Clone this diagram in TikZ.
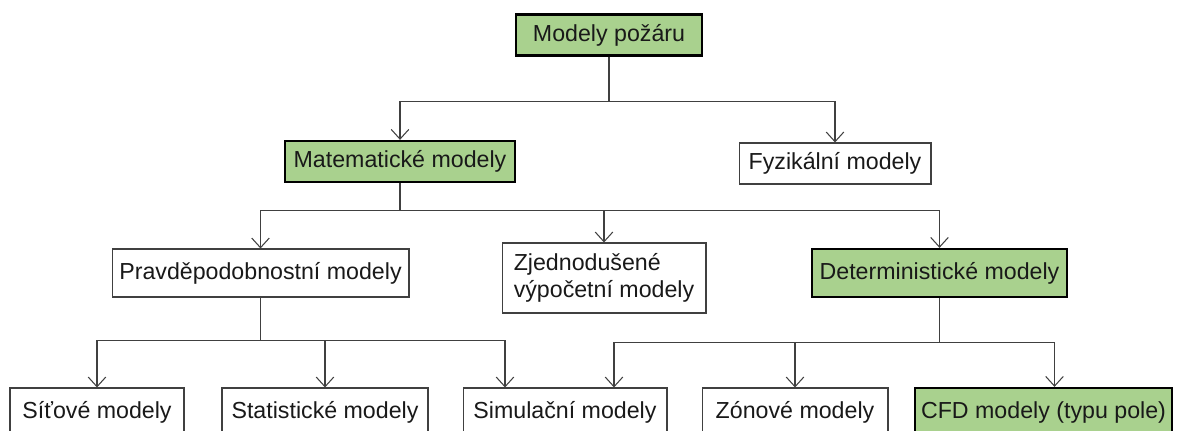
\documentclass[tikz,border=0pt]{standalone}
\usepackage{fontspec}
\setmainfont{Liberation Sans}
\usepackage{xcolor}
\definecolor{zelena}{RGB}{169,209,142}
\definecolor{sediva}{RGB}{64,64,64}
\usepackage{tikz}
\usetikzlibrary{arrows.meta,positioning,calc}

\begin{document}
\begin{tikzpicture}[x=0.02cm, y=-0.02cm,
  krabice/.style={draw=sediva, fill=white, line width=0.6pt,
    minimum height=0.96cm, inner sep=2pt, text=black!90,
    font=\fontsize{13.2}{15.5}\selectfont},
  zelena krabice/.style={krabice, draw=black, fill=zelena, line width=1.3pt},
  spoj/.style={draw=sediva, line width=0.6pt,
    -{Straight Barb[length=5.5pt,width=10pt]}}]
  \clip (0,0) rectangle (1182,430);

  % horni uroven
  \node[zelena krabice, minimum width=3.72cm, minimum height=0.82cm] (pozar) at (609,35) {Modely požáru};
  \node[zelena krabice, minimum width=4.6cm, minimum height=0.82cm] (matem) at (400,161.5) {Matematické modely};
  \node[krabice, minimum width=3.84cm, minimum height=0.82cm] (fyzik) at (835,163.5) {Fyzikální modely};

  % stredni uroven
  \node[krabice, minimum width=5.94cm] (pravd) at (260.5,273) {Pravděpodobnostní modely};
  \node[krabice, minimum width=4.08cm, minimum height=1.4cm, align=left] (zjedn) at (604,278)
    {Zjednodušené\\výpočetní modely};
  \node[zelena krabice, minimum width=5.1cm] (determ) at (939.5,273) {Deterministické modely};

  % spodni uroven
  \node[krabice, minimum width=3.48cm] (sitove) at (97,412) {Síťové modely};
  \node[krabice, minimum width=4.12cm] (statist) at (325,412) {Statistické modely};
  \node[krabice, minimum width=4.08cm] (simul) at (565,412) {Simulační modely};
  \node[krabice, minimum width=3.72cm] (zonove) at (795,412) {Zónové modely};
  \node[zelena krabice, minimum width=5.14cm] (cfd) at (1043.5,412) {CFD modely (typu pole)};

  % spoje
  \foreach \od/\do in {pozar/matem, pozar/fyzik}{
    \draw[spoj] (\od.south) -- ++(0,45) -| (\do.north);
  }
  \foreach \do in {pravd, zjedn, determ}{
    \draw[spoj] (matem.south) -- ++(0,27) -| (\do.north);
  }
  \foreach \do in {sitove, statist}{
    \draw[spoj] (pravd.south) -- ++(0,43) -| (\do.north);
  }
  \draw[spoj] (pravd.south) -- ++(0,43) -| ($(simul.north)+(-60,0)$);
  \draw[spoj] (determ.south) -- ++(0,44) -| ($(simul.north)+(49,0)$);
  \draw[spoj] (determ.south) -- ++(0,44) -| (zonove.north);
  \draw[spoj] (determ.south) -- ++(0,44) -| ($(cfd.north)+(11,0)$);
\end{tikzpicture}
\end{document}
